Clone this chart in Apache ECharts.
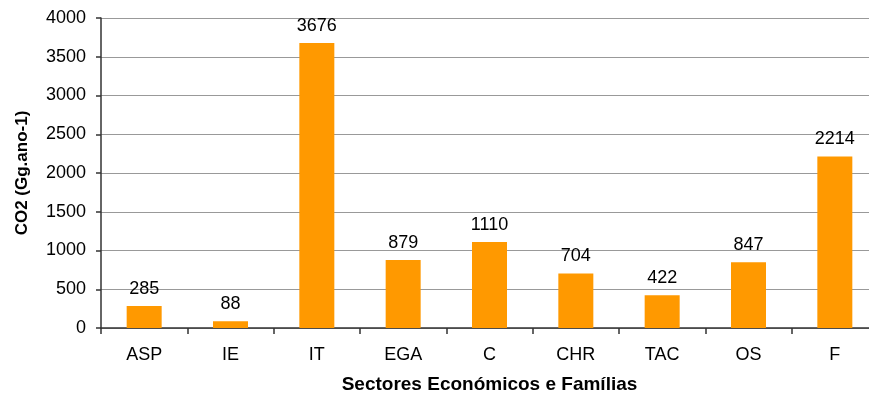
<!DOCTYPE html>
<html>
<head>
<meta charset="utf-8">
<script src="https://cdn.jsdelivr.net/npm/echarts@6/dist/echarts.min.js"></script>
<style>
  html, body { margin: 0; padding: 0; background: #fff; }
  #chart { width: 869px; height: 399px; }
</style>
</head>
<body>
<div id="chart"></div>
<script>
// sectores e valores de CO2
var sectores = ['ASP', 'IE', 'IT', 'EGA', 'C', 'CHR', 'TAC', 'OS', 'F'];
var co2 = [285, 88, 3676, 879, 1110, 704, 422, 847, 2214];

var chart = echarts.init(document.getElementById('chart'));

var option = {
    backgroundColor: '#ffffff',
    animation: false,
    grid: {
        left: 101,
        top: 18,
        width: 777,
        height: 310,
        outerBoundsMode: 'none',
        containLabel: false
    },
    xAxis: {
        type: 'category',
        data: sectores,
        name: 'Sectores Económicos e Famílias',
        nameLocation: 'middle',
        nameGap: 47,
        nameTextStyle: {
            fontFamily: 'Liberation Sans',
            fontSize: 19,
            fontWeight: 'bold',
            color: '#000'
        },
        axisLine: { lineStyle: { color: '#333', width: 1.5 } },
        axisTick: { show: true, length: 6, lineStyle: { color: '#333', width: 1.5 } },
        axisLabel: {
            margin: 18,
            fontFamily: 'Liberation Sans',
            fontSize: 18,
            color: '#000'
        }
    },
    yAxis: {
        type: 'value',
        min: 0,
        max: 4000,
        interval: 500,
        name: 'CO2 (Gg.ano-1)',
        nameLocation: 'middle',
        nameGap: 70,
        nameRotate: 90,
        nameTextStyle: {
            fontFamily: 'Liberation Sans',
            fontSize: 17,
            fontWeight: 'bold',
            color: '#000'
        },
        axisLine: { show: true, lineStyle: { color: '#333', width: 1.5 } },
        axisTick: { show: true, length: 5, lineStyle: { color: '#333', width: 1.5 } },
        axisLabel: {
            margin: 15,
            fontFamily: 'Liberation Sans',
            fontSize: 18,
            color: '#000',
            formatter: function (v) { return String(v); }
        },
        splitLine: { lineStyle: { color: '#999', width: 1.2 } }
    },
    series: [{
        type: 'bar',
        data: co2,
        barWidth: 35,
        itemStyle: { color: '#ff9900' },
        label: {
            show: true,
            position: 'top',
            distance: 8,
            fontFamily: 'Liberation Sans',
            fontSize: 18,
            color: '#000'
        }
    }]
};
chart.setOption(option);
</script>
</body>
</html>
